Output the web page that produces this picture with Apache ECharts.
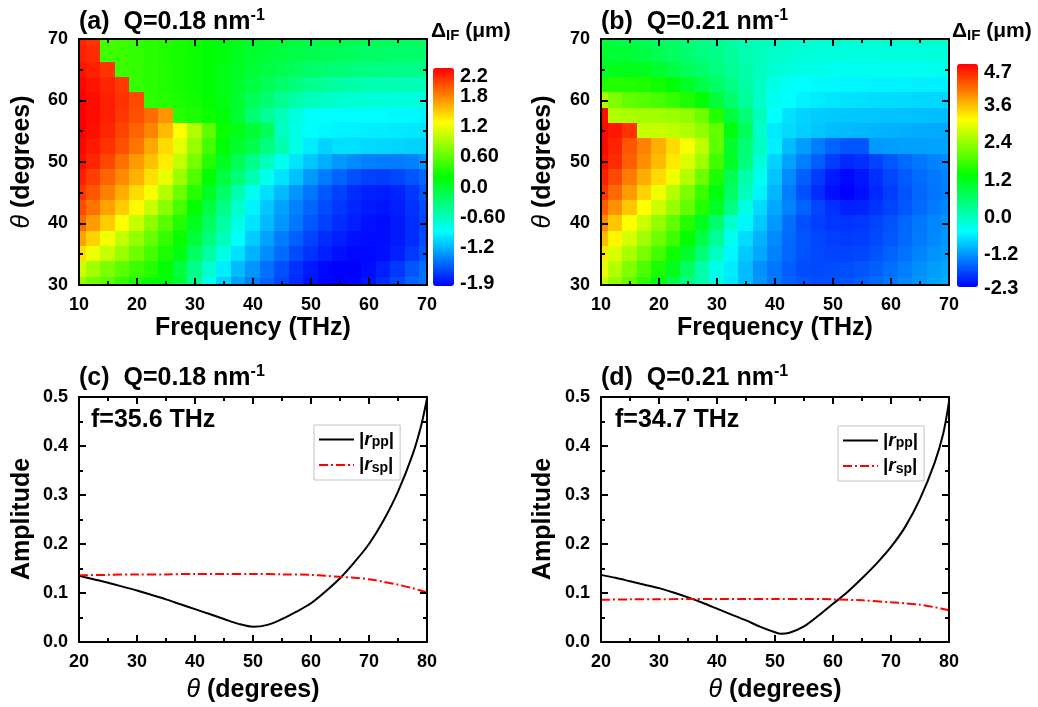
<!DOCTYPE html>
<html>
<head>
<meta charset="utf-8">
<script src="https://cdn.jsdelivr.net/npm/echarts@6/dist/echarts.min.js"></script>
<style>
  html, body { margin: 0; padding: 0; background: #ffffff; }
  #chart { width: 1038px; height: 707px; }
</style>
</head>
<body>
<div id="chart"></div>
<script>
// ---------- data ----------
// frequency columns (THz) and incidence-angle rows (degrees, top row first)
const freqTHz = [10, 12.5, 15, 17.5, 20, 22.5, 25, 27.5, 30, 32.5, 35, 37.5, 40, 42.5, 45, 47.5, 50, 52.5, 55, 57.5, 60, 62.5, 65, 67.5, 70];
const thetaRows = [70, 67.5, 65, 62.5, 60, 57.5, 55, 52.5, 50, 47.5, 45, 42.5, 40, 37.5, 35, 32.5, 30];

// Delta_IF (um), Q = 0.18 nm^-1
const deltaQ018 = [
  [2.05, 2.0, 0.42, 0.39, 0.35, 0.32, 0.28, 0.24, 0.2, 0.15, 0.1, 0.05, 0.0, -0.03, -0.05, -0.08, -0.1, -0.12, -0.14, -0.16, -0.18, -0.19, -0.2, -0.21, -0.22],
  [2.08, 2.03, 0.4, 0.37, 0.34, 0.31, 0.27, 0.23, 0.19, 0.14, 0.09, 0.03, -0.03, -0.07, -0.1, -0.13, -0.16, -0.19, -0.21, -0.23, -0.25, -0.26, -0.27, -0.28, -0.28],
  [2.12, 2.07, 2.0, 0.38, 0.35, 0.32, 0.28, 0.24, 0.2, 0.14, 0.08, 0.01, -0.07, -0.12, -0.17, -0.22, -0.26, -0.3, -0.33, -0.35, -0.37, -0.38, -0.39, -0.4, -0.4],
  [2.17, 2.12, 2.05, 1.97, 0.35, 0.32, 0.28, 0.24, 0.2, 0.14, 0.07, -0.02, -0.12, -0.2, -0.28, -0.35, -0.42, -0.46, -0.5, -0.53, -0.55, -0.56, -0.57, -0.58, -0.58],
  [2.2, 2.15, 2.08, 2.0, 1.9, 0.33, 0.3, 0.26, 0.22, 0.16, 0.08, -0.05, -0.2, -0.3, -0.42, -0.53, -0.6, -0.65, -0.68, -0.7, -0.71, -0.72, -0.73, -0.74, -0.75],
  [2.2, 2.16, 2.08, 1.98, 1.88, 1.76, 1.6, 0.3, 0.25, 0.2, 0.12, -0.05, -0.3, -0.45, -0.6, -0.75, -0.85, -0.88, -0.88, -0.88, -0.88, -0.88, -0.89, -0.9, -0.92],
  [2.2, 2.14, 2.05, 1.93, 1.8, 1.67, 1.45, 1.18, 0.85, 0.52, 0.2, 0.05, -0.05, -0.2, -0.62, -0.78, -0.86, -0.9, -0.92, -0.93, -0.94, -0.95, -0.96, -0.97, -0.98],
  [2.18, 2.1, 2.0, 1.88, 1.73, 1.52, 1.32, 1.07, 0.75, 0.42, 0.12, -0.03, -0.15, -0.35, -0.55, -0.78, -0.95, -1.05, -1.0, -1.0, -1.02, -1.03, -1.04, -1.05, -1.06],
  [2.15, 2.05, 1.92, 1.75, 1.58, 1.42, 1.25, 0.93, 0.62, 0.3, 0.03, -0.18, -0.39, -0.6, -0.81, -0.98, -1.1, -1.2, -1.28, -1.34, -1.38, -1.4, -1.4, -1.38, -1.3],
  [2.08, 1.95, 1.8, 1.65, 1.48, 1.3, 1.08, 0.78, 0.47, 0.15, -0.09, -0.32, -0.56, -0.8, -0.98, -1.12, -1.28, -1.4, -1.5, -1.58, -1.63, -1.65, -1.62, -1.56, -1.48],
  [2.0, 1.85, 1.69, 1.5, 1.32, 1.15, 0.87, 0.58, 0.3, 0.02, -0.26, -0.54, -0.82, -1.0, -1.15, -1.3, -1.43, -1.55, -1.64, -1.72, -1.77, -1.79, -1.76, -1.68, -1.56],
  [1.9, 1.74, 1.55, 1.38, 1.2, 0.95, 0.7, 0.44, 0.17, -0.1, -0.38, -0.66, -0.92, -1.1, -1.25, -1.38, -1.5, -1.6, -1.68, -1.75, -1.8, -1.82, -1.78, -1.7, -1.6],
  [1.78, 1.58, 1.38, 1.16, 0.94, 0.72, 0.5, 0.28, 0.03, -0.23, -0.5, -0.77, -0.98, -1.15, -1.3, -1.42, -1.55, -1.64, -1.72, -1.78, -1.83, -1.85, -1.8, -1.72, -1.62],
  [1.55, 1.35, 1.13, 0.93, 0.74, 0.55, 0.36, 0.18, -0.08, -0.35, -0.6, -0.87, -1.08, -1.25, -1.4, -1.52, -1.63, -1.72, -1.78, -1.83, -1.85, -1.85, -1.8, -1.72, -1.6],
  [1.3, 1.1, 0.94, 0.77, 0.6, 0.42, 0.25, 0.08, -0.23, -0.5, -0.78, -1.0, -1.18, -1.33, -1.47, -1.6, -1.7, -1.78, -1.84, -1.87, -1.87, -1.84, -1.77, -1.67, -1.55],
  [0.98, 0.8, 0.65, 0.52, 0.4, 0.3, 0.16, -0.1, -0.4, -0.67, -0.95, -1.15, -1.3, -1.45, -1.58, -1.7, -1.8, -1.87, -1.9, -1.9, -1.86, -1.78, -1.68, -1.56, -1.45],
  [0.75, 0.6, 0.5, 0.36, 0.25, 0.17, 0.11, -0.05, -0.45, -0.8, -1.05, -1.25, -1.38, -1.5, -1.62, -1.73, -1.83, -1.89, -1.9, -1.88, -1.82, -1.72, -1.62, -1.5, -1.42]
];

// Delta_IF (um), Q = 0.21 nm^-1
const deltaQ021 = [
  [0.78, 0.75, 0.7, 0.63, 0.55, 0.47, 0.38, 0.3, 0.2, 0.1, 0.0, -0.07, -0.13, -0.17, -0.2, -0.22, -0.23, -0.24, -0.24, -0.24, -0.23, -0.22, -0.21, -0.2, -0.19],
  [0.85, 0.85, 0.82, 0.75, 0.65, 0.55, 0.45, 0.35, 0.25, 0.13, 0.0, -0.1, -0.18, -0.23, -0.27, -0.3, -0.32, -0.33, -0.34, -0.34, -0.34, -0.33, -0.32, -0.31, -0.3],
  [0.95, 1.02, 1.05, 1.0, 0.88, 0.75, 0.6, 0.47, 0.35, 0.2, 0.05, -0.1, -0.25, -0.32, -0.37, -0.4, -0.42, -0.43, -0.44, -0.45, -0.45, -0.45, -0.45, -0.44, -0.44],
  [1.4, 1.45, 1.45, 1.4, 1.3, 1.15, 0.95, 0.72, 0.5, 0.3, 0.08, -0.15, -0.38, -0.5, -0.55, -0.58, -0.6, -0.61, -0.62, -0.63, -0.64, -0.64, -0.65, -0.65, -0.66],
  [2.4, 2.05, 1.85, 1.77, 1.68, 1.56, 1.4, 1.18, 0.8, 0.45, 0.14, -0.18, -0.45, -0.55, -0.63, -0.68, -0.72, -0.74, -0.76, -0.78, -0.79, -0.8, -0.81, -0.82, -0.83],
  [4.6, 2.4, 2.35, 2.32, 2.3, 2.27, 2.2, 1.95, 1.45, 0.8, 0.38, -0.1, -0.55, -0.75, -0.85, -0.9, -0.92, -0.93, -0.94, -0.95, -0.96, -0.97, -0.98, -0.99, -1.0],
  [4.65, 4.55, 4.35, 2.57, 2.57, 2.52, 2.4, 2.2, 1.85, 1.1, 0.6, -0.2, -0.7, -0.8, -0.88, -0.95, -1.0, -1.02, -1.04, -1.06, -1.08, -1.1, -1.12, -1.13, -1.15],
  [4.65, 4.45, 4.1, 3.8, 3.5, 3.2, 2.9, 2.5, 1.85, 0.9, 0.4, -0.15, -0.65, -1.0, -1.22, -1.45, -1.62, -1.72, -1.72, -1.25, -1.22, -1.2, -1.2, -1.18, -1.17],
  [4.6, 4.4, 4.05, 3.72, 3.42, 3.1, 2.7, 2.3, 1.65, 0.95, 0.35, -0.3, -0.85, -1.18, -1.42, -1.65, -1.88, -2.02, -1.98, -1.85, -1.7, -1.58, -1.48, -1.4, -1.34],
  [4.5, 4.2, 3.85, 3.52, 3.2, 2.85, 2.45, 1.95, 1.4, 0.65, 0.05, -0.45, -0.95, -1.35, -1.65, -1.9, -2.12, -2.25, -2.15, -1.98, -1.82, -1.68, -1.56, -1.47, -1.4],
  [4.35, 3.98, 3.62, 3.25, 2.85, 2.45, 2.05, 1.6, 1.1, 0.5, -0.1, -0.62, -1.05, -1.45, -1.75, -2.0, -2.2, -2.3, -2.2, -2.03, -1.88, -1.73, -1.6, -1.5, -1.42],
  [4.08, 3.7, 3.35, 2.95, 2.6, 2.25, 1.88, 1.45, 0.95, 0.3, -0.35, -0.8, -1.15, -1.4, -1.62, -1.82, -1.97, -2.08, -2.07, -1.96, -1.84, -1.7, -1.57, -1.46, -1.38],
  [3.74, 3.35, 2.95, 2.58, 2.22, 1.85, 1.45, 1.0, 0.45, -0.2, -0.62, -0.92, -1.25, -1.55, -1.76, -1.87, -1.93, -1.95, -1.92, -1.84, -1.73, -1.6, -1.48, -1.38, -1.3],
  [3.4, 3.02, 2.65, 2.3, 1.97, 1.62, 1.22, 0.72, 0.15, -0.45, -0.8, -1.08, -1.35, -1.58, -1.72, -1.82, -1.87, -1.9, -1.88, -1.8, -1.7, -1.58, -1.46, -1.36, -1.27],
  [3.08, 2.68, 2.35, 2.0, 1.66, 1.3, 0.9, 0.4, -0.15, -0.6, -0.92, -1.15, -1.4, -1.6, -1.74, -1.8, -1.83, -1.85, -1.82, -1.74, -1.63, -1.52, -1.4, -1.3, -1.22],
  [2.78, 2.42, 2.07, 1.72, 1.38, 1.0, 0.55, 0.05, -0.4, -0.68, -1.0, -1.3, -1.5, -1.66, -1.77, -1.8, -1.78, -1.76, -1.72, -1.64, -1.54, -1.43, -1.32, -1.22, -1.15],
  [2.57, 2.2, 1.85, 1.5, 1.12, 0.72, 0.28, 0.0, -0.35, -0.7, -1.0, -1.28, -1.48, -1.62, -1.72, -1.75, -1.74, -1.7, -1.65, -1.57, -1.47, -1.37, -1.27, -1.17, -1.1]
];

// colour-bar ranges and tick labels
const rangeQ018 = [-1.9, 2.2];
const rangeQ021 = [-2.3, 4.7];
const barTicksQ018 = [-1.9, -1.2, -0.6, 0, 0.6, 1.2, 1.8, 2.2];
const barLabelsQ018 = ['-1.9', '-1.2', '-0.60', '0.0', '0.60', '1.2', '1.8', '2.2'];
const barTicksQ021 = [-2.3, -1.2, 0, 1.2, 2.4, 3.6, 4.7];
const barLabelsQ021 = ['-2.3', '-1.2', '0.0', '1.2', '2.4', '3.6', '4.7'];

// frame tick positions (major, minor)
const freqMajor = [10, 20, 30, 40, 50, 60, 70];
const freqMinor = [15, 25, 35, 45, 55, 65];
const thetaMajor = [30, 40, 50, 60, 70];
const thetaMinor = [35, 45, 55, 65];
const angleMajor = [20, 30, 40, 50, 60, 70, 80];
const angleMinor = [25, 35, 45, 55, 65, 75];
const ampMajor = [0, 0.1, 0.2, 0.3, 0.4, 0.5];
const ampMinor = [0.05, 0.15, 0.25, 0.35, 0.45];

// reflection amplitudes versus angle, f = 35.6 THz (Q = 0.18 nm^-1)
const angRppC = [20, 22.5, 25, 27.5, 30, 32.5, 35, 37.5, 40, 42.5, 45, 47.5, 50, 52.5, 55, 57.5, 60, 62.5, 65, 67.5, 70, 72.5, 75, 77.5, 79, 80];
const rppC = [0.135, 0.128, 0.121, 0.113, 0.105, 0.096, 0.087, 0.077, 0.067, 0.057, 0.047, 0.037, 0.031, 0.035, 0.047, 0.062, 0.079, 0.103, 0.130, 0.163, 0.200, 0.248, 0.307, 0.382, 0.442, 0.497];
const angRspC = [20, 25, 30, 35, 40, 45, 50, 55, 60, 62.5, 65, 67.5, 70, 72.5, 75, 77.5, 80];
const rspC = [0.136, 0.137, 0.138, 0.138, 0.139, 0.139, 0.139, 0.138, 0.137, 0.135, 0.133, 0.131, 0.128, 0.123, 0.117, 0.110, 0.101];

// reflection amplitudes versus angle, f = 34.7 THz (Q = 0.21 nm^-1)
const angRppD = [20, 22.5, 25, 27.5, 30, 32.5, 35, 37.5, 40, 42.5, 45, 47.5, 50, 51, 52.5, 55, 57.5, 60, 62.5, 65, 67.5, 70, 72.5, 75, 77.5, 79, 80];
const rppD = [0.137, 0.131, 0.124, 0.117, 0.110, 0.101, 0.091, 0.080, 0.068, 0.056, 0.044, 0.031, 0.020, 0.017, 0.019, 0.032, 0.054, 0.078, 0.102, 0.130, 0.160, 0.194, 0.236, 0.292, 0.365, 0.425, 0.490];
const angRspD = [20, 25, 30, 35, 40, 45, 50, 55, 60, 65, 70, 72.5, 75, 77.5, 80];
const rspD = [0.086, 0.087, 0.087, 0.088, 0.088, 0.088, 0.088, 0.088, 0.087, 0.085, 0.081, 0.079, 0.076, 0.071, 0.065];

// ---------- helpers ----------
const FONT = "'Liberation Sans', Arial, sans-serif";
const RAINBOW = ['#0000ff', '#00ffff', '#00ff00', '#ffff00', '#ff0000'];

function toCells(matrix) {
  const out = [];
  thetaRows.forEach((t, r) => freqTHz.forEach((f, c) => out.push([f, t, matrix[r][c]])));
  return out;
}
function pairs(xs, ys) { return xs.map((x, i) => [x, ys[i]]); }

// one filled cell per (f, theta) sample, clipped to the plot frame
function heatCell(params, api) {
  const f = api.value(0), t = api.value(1);
  const hf = (freqTHz[1] - freqTHz[0]) / 2;
  const ht = (thetaRows[0] - thetaRows[1]) / 2;
  const a = api.coord([f - hf, t + ht]);
  const b = api.coord([f + hf, t - ht]);
  const cs = params.coordSys;
  const x0 = Math.max(Math.floor(a[0]), cs.x), x1 = Math.min(Math.ceil(b[0]), cs.x + cs.width);
  const y0 = Math.max(Math.floor(a[1]), cs.y), y1 = Math.min(Math.ceil(b[1]), cs.y + cs.height);
  return { type: 'rect', shape: { x: x0, y: y0, width: x1 - x0, height: y1 - y0 },
           style: { fill: api.visual('color') } };
}

// framed value axis (frame line and labels)
function frameAxis(gridIndex, position, min, max, interval, formatter) {
  const main = position === 'bottom' || position === 'left';
  return {
    type: 'value', gridIndex, position, min, max, interval,
    axisLine: { show: true, onZero: false, lineStyle: { color: '#000', width: 2 } },
    axisTick: { show: false },
    minorTick: { show: false },
    splitLine: { show: false },
    minorSplitLine: { show: false },
    axisLabel: { show: main, color: '#000', fontFamily: FONT, fontWeight: 'bold', fontSize: 18, margin: 11, formatter: formatter },
    z: 10
  };
}
const fmt1 = v => v.toFixed(1);

// ---------- layout ----------
const grids = [
  { left: 79, top: 39, width: 348, height: 246 },    // (a)
  { left: 601, top: 39, width: 348, height: 246 },   // (b)
  { left: 79, top: 397, width: 348, height: 245 },   // (c)
  { left: 601, top: 397, width: 348, height: 245 },  // (d)
  { left: 433, top: 76, width: 21, height: 207 },    // colour-bar scale (a)
  { left: 957, top: 72, width: 21, height: 216 }     // colour-bar scale (b)
];

const xAxes = [], yAxes = [];
[0, 1].forEach(g => {
  xAxes.push(frameAxis(g, 'bottom', 10, 70, 10));
  xAxes.push(frameAxis(g, 'top', 10, 70, 10));
  yAxes.push(frameAxis(g, 'left', 30, 70, 10));
  yAxes.push(frameAxis(g, 'right', 30, 70, 10));
});
[2, 3].forEach(g => {
  xAxes.push(frameAxis(g, 'bottom', 20, 80, 10));
  xAxes.push(frameAxis(g, 'top', 20, 80, 10));
  yAxes.push(frameAxis(g, 'left', 0, 0.5, 0.1, fmt1));
  yAxes.push(frameAxis(g, 'right', 0, 0.5, 0.1));
});
// hidden scales beside each colour bar, used to place its labels
[[4, rangeQ018], [5, rangeQ021]].forEach(([g, rng]) => {
  xAxes.push({ type: 'value', gridIndex: g, min: 0, max: 1, show: false });
  yAxes.push({ type: 'value', gridIndex: g, min: rng[0], max: rng[1], show: false });
});

const legendRich = {
  n: { fontFamily: FONT, fontWeight: 'bold', fontSize: 19, lineHeight: 20, color: '#000' },
  i: { fontFamily: FONT, fontWeight: 'bold', fontStyle: 'italic', fontSize: 19, lineHeight: 20, color: '#000' },
  s: { fontFamily: FONT, fontWeight: 'bold', fontSize: 14, color: '#000', verticalAlign: 'bottom', lineHeight: 14 }
};
function legendAt(left, top) {
  return {
    left, top, orient: 'vertical', selectedMode: false,
    data: ['rpp', 'rsp'],
    itemWidth: 35, itemHeight: 12, itemGap: 6,
    padding: [5, 6, 5, 4],
    borderColor: '#c4c4c4', borderWidth: 1,
    itemStyle: { opacity: 0 },
    formatter: n => n === 'rpp' ? '{n||}{i|r}{s|pp}{n||}' : '{n||}{i|r}{s|sp}{n||}',
    textStyle: { rich: legendRich }
  };
}

function lineSeries(name, xi, data, color, type) {
  return {
    type: 'line', name, xAxisIndex: xi, yAxisIndex: xi, data,
    showSymbol: false, symbol: 'none', smooth: 0.3, silent: true,
    lineStyle: { color, width: 2, type }, itemStyle: { color }, z: 5
  };
}
const DASHDOT = [9, 3, 2, 3];

const nameRich = {
  i: { fontFamily: FONT, fontStyle: 'italic', fontSize: 25, fill: '#000' },
  b: { fontFamily: FONT, fontWeight: 'bold', fontSize: 25, fill: '#000' }
};
function axisName(x, y, text, vertical) {
  return {
    type: 'text', x, y, rotation: vertical ? Math.PI / 2 : 0, z: 20,
    style: { text, rich: nameRich, align: 'center', verticalAlign: 'middle' }
  };
}
const thetaName = '{i|θ}{b| (degrees)}';

function titleText(left, top, label, q) {
  return {
    type: 'text', left, top, z: 20,
    style: {
      text: '{t|' + label + '  Q=' + q + ' nm}{p|-1}',
      rich: {
        t: { fontFamily: FONT, fontWeight: 'bold', fontSize: 25, lineHeight: 28, fill: '#000' },
        p: { fontFamily: FONT, fontWeight: 'bold', fontSize: 16, lineHeight: 16, verticalAlign: 'top', fill: '#000' }
      }
    }
  };
}
function plainText(left, top, text, size) {
  return { type: 'text', left, top, z: 20,
    style: { text, fontFamily: FONT, fontWeight: 'bold', fontSize: size, fill: '#000' } };
}
function barTitle(left, top) {
  return {
    type: 'text', left, top, z: 20,
    style: {
      text: '{d|Δ}{s|IF}{d| (μm)}',
      rich: {
        d: { fontFamily: FONT, fontWeight: 'bold', fontSize: 21, lineHeight: 24, fill: '#000' },
        s: { fontFamily: FONT, fontWeight: 'bold', fontSize: 15, lineHeight: 15, verticalAlign: 'bottom', fill: '#000' }
      }
    }
  };
}

const textGraphics = [
  titleText(79, 8, '(a)', '0.18'),
  titleText(601, 8, '(b)', '0.21'),
  titleText(79, 364, '(c)', '0.18'),
  titleText(601, 364, '(d)', '0.21'),
  barTitle(431, 21),
  barTitle(952, 21),
  plainText(91, 408, 'f=35.6 THz', 25),
  plainText(615, 408, 'f=34.7 THz', 25),
  axisName(253, 328, '{b|Frequency (THz)}', false),
  axisName(775, 328, '{b|Frequency (THz)}', false),
  axisName(22, 162, thetaName, true),
  axisName(543, 162, thetaName, true),
  axisName(253, 690, thetaName, false),
  axisName(775, 690, thetaName, false),
  axisName(22, 519, '{b|Amplitude}', true),
  axisName(543, 519, '{b|Amplitude}', true)
];

const option = {
  backgroundColor: '#ffffff',
  animation: false,
  grid: grids,
  xAxis: xAxes,
  yAxis: yAxes,
  visualMap: [
    { type: 'continuous', seriesIndex: 0, dimension: 2, min: rangeQ018[0], max: rangeQ018[1],
      inRange: { color: RAINBOW }, left: 433, top: 68, itemWidth: 21, itemHeight: 218,
      padding: 0, calculable: false, hoverLink: false, text: null, showLabel: false },
    { type: 'continuous', seriesIndex: 1, dimension: 2, min: rangeQ021[0], max: rangeQ021[1],
      inRange: { color: RAINBOW }, left: 957, top: 64, itemWidth: 21, itemHeight: 223,
      padding: 0, calculable: false, hoverLink: false, text: null, showLabel: false }
  ],
  legend: [legendAt(314, 425), legendAt(838, 426)],
  series: [
    { type: 'custom', name: 'dQ018', coordinateSystem: 'cartesian2d', xAxisIndex: 0, yAxisIndex: 0,
      data: toCells(deltaQ018), encode: { x: 0, y: 1 }, renderItem: heatCell, silent: true, z: 1 },
    { type: 'custom', name: 'dQ021', coordinateSystem: 'cartesian2d', xAxisIndex: 2, yAxisIndex: 2,
      data: toCells(deltaQ021), encode: { x: 0, y: 1 }, renderItem: heatCell, silent: true, z: 1 },
    lineSeries('rpp', 4, pairs(angRppC, rppC), '#000000', 'solid'),
    lineSeries('rsp', 4, pairs(angRspC, rspC), '#ff0000', DASHDOT),
    lineSeries('rpp', 6, pairs(angRppD, rppD), '#000000', 'solid'),
    lineSeries('rsp', 6, pairs(angRspD, rspD), '#ff0000', DASHDOT)
  ],
  graphic: textGraphics
};

const chart = echarts.init(document.getElementById('chart'), null, { renderer: 'canvas' });
try { chart.setOption(option); } catch (e) { console.error(e); }

// inward frame ticks on all four sides, placed through each grid's own axis scales
function frameTicks(gridIndex, xMajor, xMinor, yMajor, yMinor) {
  const out = [];
  const xMin = xMajor[0], xMax = xMajor[xMajor.length - 1];
  const yMin = yMajor[0], yMax = yMajor[yMajor.length - 1];
  const lb = chart.convertToPixel({ gridIndex }, [xMin, yMin]);
  const rt = chart.convertToPixel({ gridIndex }, [xMax, yMax]);
  const style = { stroke: '#000', lineWidth: 2 };
  const addX = (v, len) => {
    const x = Math.round(chart.convertToPixel({ gridIndex }, [v, yMin])[0]);
    out.push({ type: 'line', z: 15, silent: true, shape: { x1: x, y1: lb[1], x2: x, y2: lb[1] - len }, style });
    out.push({ type: 'line', z: 15, silent: true, shape: { x1: x, y1: rt[1], x2: x, y2: rt[1] + len }, style });
  };
  const addY = (v, len) => {
    const y = Math.round(chart.convertToPixel({ gridIndex }, [xMin, v])[1]);
    out.push({ type: 'line', z: 15, silent: true, shape: { x1: lb[0], y1: y, x2: lb[0] + len, y2: y }, style });
    out.push({ type: 'line', z: 15, silent: true, shape: { x1: rt[0], y1: y, x2: rt[0] - len, y2: y }, style });
  };
  xMajor.forEach(v => addX(v, 7));
  xMinor.forEach(v => addX(v, 4));
  yMajor.forEach(v => addY(v, 7));
  yMinor.forEach(v => addY(v, 4));
  return out;
}

// colour-bar tick labels, placed through the hidden scale beside each bar
function barLabels(gridIndex, axisIndex, ticks, labels) {
  const g = grids[gridIndex];
  return ticks.map((v, i) => ({
    type: 'text', z: 20, silent: true,
    x: g.left + g.width + 6,
    y: chart.convertToPixel({ yAxisIndex: axisIndex }, v),
    style: { text: labels[i], fontFamily: FONT, fontWeight: 'bold', fontSize: 20, fill: '#000',
             align: 'left', verticalAlign: 'middle' }
  }));
}

let extras = [];
try {
  extras = extras.concat(
    barLabels(4, 8, barTicksQ018, barLabelsQ018),
    barLabels(5, 9, barTicksQ021, barLabelsQ021)
  );
} catch (e) { console.error(e); }
try {
  extras = extras.concat(
    frameTicks(0, freqMajor, freqMinor, thetaMajor, thetaMinor),
    frameTicks(1, freqMajor, freqMinor, thetaMajor, thetaMinor),
    frameTicks(2, angleMajor, angleMinor, ampMajor, ampMinor),
    frameTicks(3, angleMajor, angleMinor, ampMajor, ampMinor)
  );
} catch (e) { console.error(e); }
try { chart.setOption({ graphic: textGraphics.concat(extras) }); } catch (e) { console.error(e); }
</script>
</body>
</html>
